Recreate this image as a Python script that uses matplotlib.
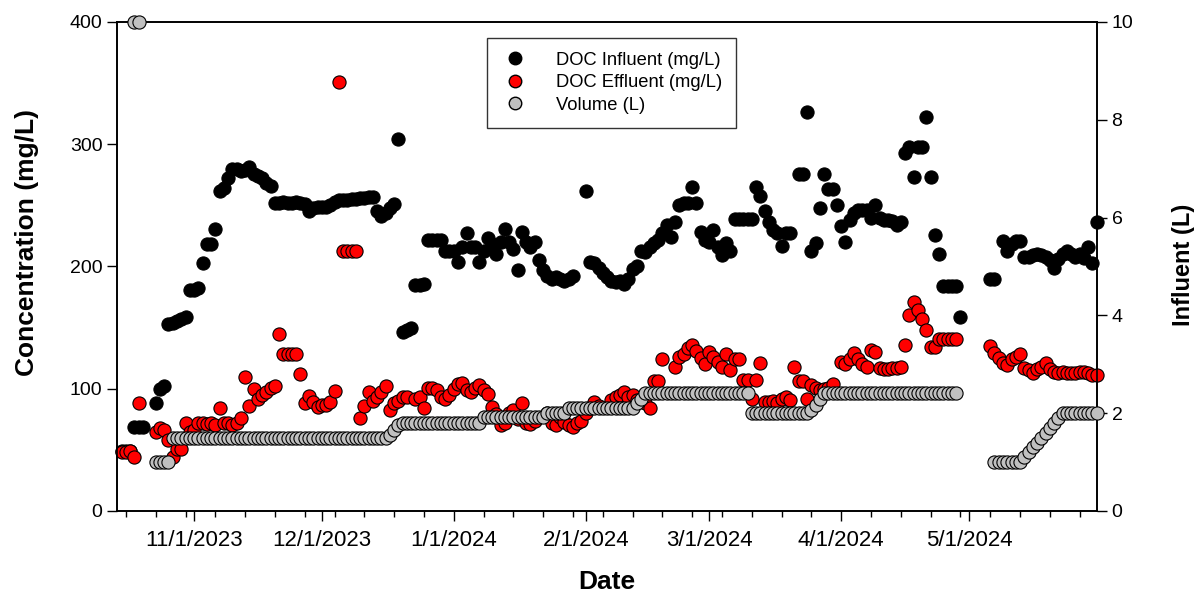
import numpy as np
import pandas as pd
import matplotlib
matplotlib.use("Agg")
import matplotlib.pyplot as plt
import matplotlib.dates as mdates
from matplotlib.lines import Line2D

plt.rcParams['font.family'] = ['Liberation Sans', 'DejaVu Sans']

# daily values, 10/15/2023 .. 5/31/2024 (None = no sample)
start_date = "2023-10-15"

influent_oct = [49, 49, 49, 69, 69, 69, None, None, 88, 100, 102, 153, 154, 155, 157, 159, 181]
influent_nov = [181, 182, 203, 218, 218, 231, 262, 264, 272, 280, 280, 278, 279, 281, 276,
                274, 272, 268, 266, 252, 252, 253, 252, 252, 253, 252, 251, 245, 248, 249]
influent_dec = [249, 249, 250, 253, 254, 254, 254, 255, 255, 256, 256, 257, 257, 245, 241,
                244, 248, 251, 304, 146, 148, 150, 185, 185, 186, 222, 222, 222, 222, 213, 213]
influent_jan = [213, 204, 216, 227, 216, 216, 204, 213, 223, 218, 210, 220, 231, 220, 214,
                197, 228, 220, 216, 220, 205, 197, 192, 190, 191, 190, 188, 190, 192, None, None]
influent_feb = [262, 204, 203, 199, 195, 191, 188, 187, 188, 186, 190, 198, 200, 213, 212,
                216, 219, 222, 227, 234, 224, 236, 250, 252, 252, 265, 252, 228, 222]
influent_mar = [220, 230, 216, 209, 219, 213, 239, 239, 239, 239, 239, 265, 258, 245, 236,
                230, 227, 217, 227, 227, None, 276, 276, 326, 213, 219, 248, 276, 263, 263, 250]
influent_apr = [233, 220, 238, 244, 246, 246, 246, 240, 250, 240, 238, 238, 237, 234, 236,
                293, 298, 273, 298, 298, 322, 273, 226, 210, 184, 184, 184, 184, 159, None]
influent_may = [None, None, None, None, None, 190, 190, None, 221, 213, 218, 221, 221, 208, 208,
                209, 210, 209, 208, 205, 199, 206, 210, 213, 210, 208, 210, 207, 216, 203, 236]

effluent_oct = [48, 48, 49, 44, 88, None, None, None, 65, 68, 66, 58, 44, 51, 51, 72, 65]
effluent_nov = [66, 72, 72, 71, 72, 70, 84, 72, 72, 70, 72, 76, 110, 86, 100,
                92, 95, 97, 101, 102, 145, 128, 128, 128, 128, 112, 88, 94, 89, 85]
effluent_dec = [87, 87, 89, 98, 351, 213, 213, 213, 213, 76, 86, 97, 90, 93, 97,
                102, 83, 88, 90, 93, 93, None, 92, 93, 84, 101, 101, 99, 93, 92, 95]
effluent_jan = [100, 104, 105, 99, 97, 101, 103, 99, 96, 85, 79, 70, 72, 80, 83,
                75, 88, 72, 71, 74, None, None, 80, 72, 70, 77, 73, 70, 69, 72, 74]
effluent_feb = [80, 84, 89, 86, None, None, 91, 93, 95, 97, 93, 95, 91, None, 88,
                84, 106, 106, 124, None, None, 118, 126, 128, 133, 136, 131, 125, 120]
effluent_mar = [130, 126, 122, 118, 128, 115, 124, 124, 107, 107, 92, 107, 121, 89, 89,
                90, 88, 92, 93, 91, 118, 106, 106, 92, 103, 101, 99, 100, 101, 104, None]
effluent_apr = [122, 120, 124, 129, 124, 120, 118, 132, 130, 117, 116, 116, 117, 117, 118,
                136, 160, 171, 164, 157, 148, 134, 134, 141, 141, 141, 141, 141, None, None]
effluent_may = [None, None, None, None, None, 135, 129, 125, 121, 119, 124, 126, 128, 117, 115,
                113, 116, 118, 121, 116, 114, 113, 114, 113, 113, 113, 114, 114, 113, 111, 111]

volume_oct = [None, None, None, 10, 10, None, None, None, 1.0, 1.0, 1.0, 1.0, 1.5, 1.5, 1.5, 1.5, 1.5]
volume_nov = [1.5, 1.5, 1.5, 1.5, 1.5, 1.5, 1.5, 1.5, 1.5, 1.5, 1.5, 1.5, 1.5, 1.5, 1.5,
              1.5, 1.5, 1.5, 1.5, 1.5, 1.5, 1.5, 1.5, 1.5, 1.5, 1.5, 1.5, 1.5, 1.5, 1.5]
volume_dec = [1.5, 1.5, 1.5, 1.5, 1.5, 1.5, 1.5, 1.5, 1.5, 1.5, 1.5, 1.5, 1.5, 1.5, 1.5,
              1.5, 1.55, 1.65, 1.75, 1.8, 1.8, 1.8, 1.8, 1.8, 1.8, 1.8, 1.8, 1.8, 1.8, 1.8, 1.8]
volume_jan = [1.8, 1.8, 1.8, 1.8, 1.8, 1.8, 1.8, 1.92, 1.92, 1.92, 1.92, 1.92, 1.92, 1.92, 1.92,
              1.92, 1.92, 1.92, 1.92, 1.92, 1.92, 1.92, 2.0, 2.0, 2.0, 2.0, 2.0, 2.1, 2.1, 2.1, 2.1]
volume_feb = [2.1, 2.1, 2.1, 2.1, 2.1, 2.1, 2.1, 2.1, 2.1, 2.1, 2.1, 2.1, 2.2, 2.3, 2.41,
              2.41, 2.41, 2.41, 2.41, 2.41, 2.41, 2.41, 2.41, 2.41, 2.41, 2.41, 2.41, 2.41, 2.41]
volume_mar = [2.41, 2.41, 2.41, 2.41, 2.41, 2.41, 2.41, 2.41, 2.41, 2.41, 2.0, 2.0, 2.0, 2.0, 2.0,
              2.0, 2.0, 2.0, 2.0, 2.0, 2.0, 2.0, 2.0, 2.0, 2.07, 2.17, 2.3, 2.41, 2.41, 2.41, 2.41]
volume_apr = [2.41, 2.41, 2.41, 2.41, 2.41, 2.41, 2.41, 2.41, 2.41, 2.41, 2.41, 2.41, 2.41, 2.41, 2.41,
              2.41, 2.41, 2.41, 2.41, 2.41, 2.41, 2.41, 2.41, 2.41, 2.41, 2.41, 2.41, 2.41, None, None]
volume_may = [None, None, None, None, None, None, 1.0, 1.0, 1.0, 1.0, 1.0, 1.0, 1.0, 1.1, 1.2,
              1.3, 1.4, 1.5, 1.6, 1.7, 1.8, 1.9, 2.0, 2.0, 2.0, 2.0, 2.0, 2.0, 2.0, 2.0, 2.0]

influent = influent_oct + influent_nov + influent_dec + influent_jan + influent_feb + influent_mar + influent_apr + influent_may
effluent = effluent_oct + effluent_nov + effluent_dec + effluent_jan + effluent_feb + effluent_mar + effluent_apr + effluent_may
volume = volume_oct + volume_nov + volume_dec + volume_jan + volume_feb + volume_mar + volume_apr + volume_may

dates = pd.date_range(start_date, periods=len(influent), freq="D")
df = pd.DataFrame({"date": dates,
                   "inf": np.array(influent, dtype=float),
                   "eff": np.array(effluent, dtype=float),
                   "vol": np.array(volume, dtype=float)})

fig = plt.figure(figsize=(11.98, 5.93), dpi=100)
ax = fig.add_axes([0.0977, 0.1383, 0.818, 0.8247])
ax2 = ax.twinx()

ms = 90
ax.scatter(df["date"], df["inf"], s=ms, color="black", edgecolor="black", linewidth=0.8, zorder=3, clip_on=False)
ax.scatter(df["date"], df["eff"], s=ms, color="#ff0000", edgecolor="black", linewidth=0.8, zorder=4, clip_on=False)
ax2.scatter(df["date"], df["vol"], s=ms, color="#c0c0c0", edgecolor="black", linewidth=0.8, zorder=5, clip_on=False)

ax.set_xlim(pd.Timestamp("2023-10-13 22:00"), pd.Timestamp("2024-05-31 02:00"))
ax.set_ylim(0, 400)
ax2.set_ylim(0, 10)
ax.set_yticks([0, 100, 200, 300, 400])
ax2.set_yticks([0, 2, 4, 6, 8, 10])

ax.xaxis.set_major_locator(mdates.MonthLocator(bymonth=[11, 12, 1, 2, 3, 4, 5]))
ax.xaxis.set_major_formatter(mdates.DateFormatter("%-m/%-d/%Y"))
ax.xaxis.set_minor_locator(mdates.WeekdayLocator(byweekday=mdates.MO))
ax.tick_params(axis="x", which="major", length=7, width=1, labelsize=16, pad=7)
ax.tick_params(axis="x", which="minor", length=4, width=1)
ax.tick_params(axis="y", length=7, width=1, labelsize=14)
ax2.tick_params(axis="y", length=7, width=1, labelsize=14)

for a in (ax, ax2):
    for sp in a.spines.values():
        sp.set_linewidth(1.2)

ax.set_xlabel("Date", fontsize=19, fontweight="bold")
ax.set_ylabel("Concentration (mg/L)", fontsize=19, fontweight="bold")
ax2.set_ylabel("Influent (L)", fontsize=17, fontweight="bold")
ax.xaxis.set_label_coords(0.5, -0.12)
ax.yaxis.set_label_coords(-0.08, 0.548)
ax2.yaxis.set_label_coords(1.077, 0.503)

handles = [
    Line2D([], [], marker="o", linestyle="none", markersize=9, markerfacecolor="black", markeredgecolor="black"),
    Line2D([], [], marker="o", linestyle="none", markersize=9, markerfacecolor="#ff0000", markeredgecolor="black"),
    Line2D([], [], marker="o", linestyle="none", markersize=9, markerfacecolor="#c0c0c0", markeredgecolor="black"),
]
labels = ["DOC Influent (mg/L)", "DOC Effluent (mg/L)", "Volume (L)"]
leg = ax2.legend(handles, labels, loc="upper left", bbox_to_anchor=(487 / 1198, 1 - 38 / 593),
                 bbox_transform=fig.transFigure, fontsize=13.2, frameon=True, fancybox=False,
                 edgecolor="black", handletextpad=1.5, borderpad=0.75, labelspacing=0.3,
                 handlelength=1.5, borderaxespad=0)
leg.get_frame().set_linewidth(1.0)

fig.savefig("out.png", dpi=100)
